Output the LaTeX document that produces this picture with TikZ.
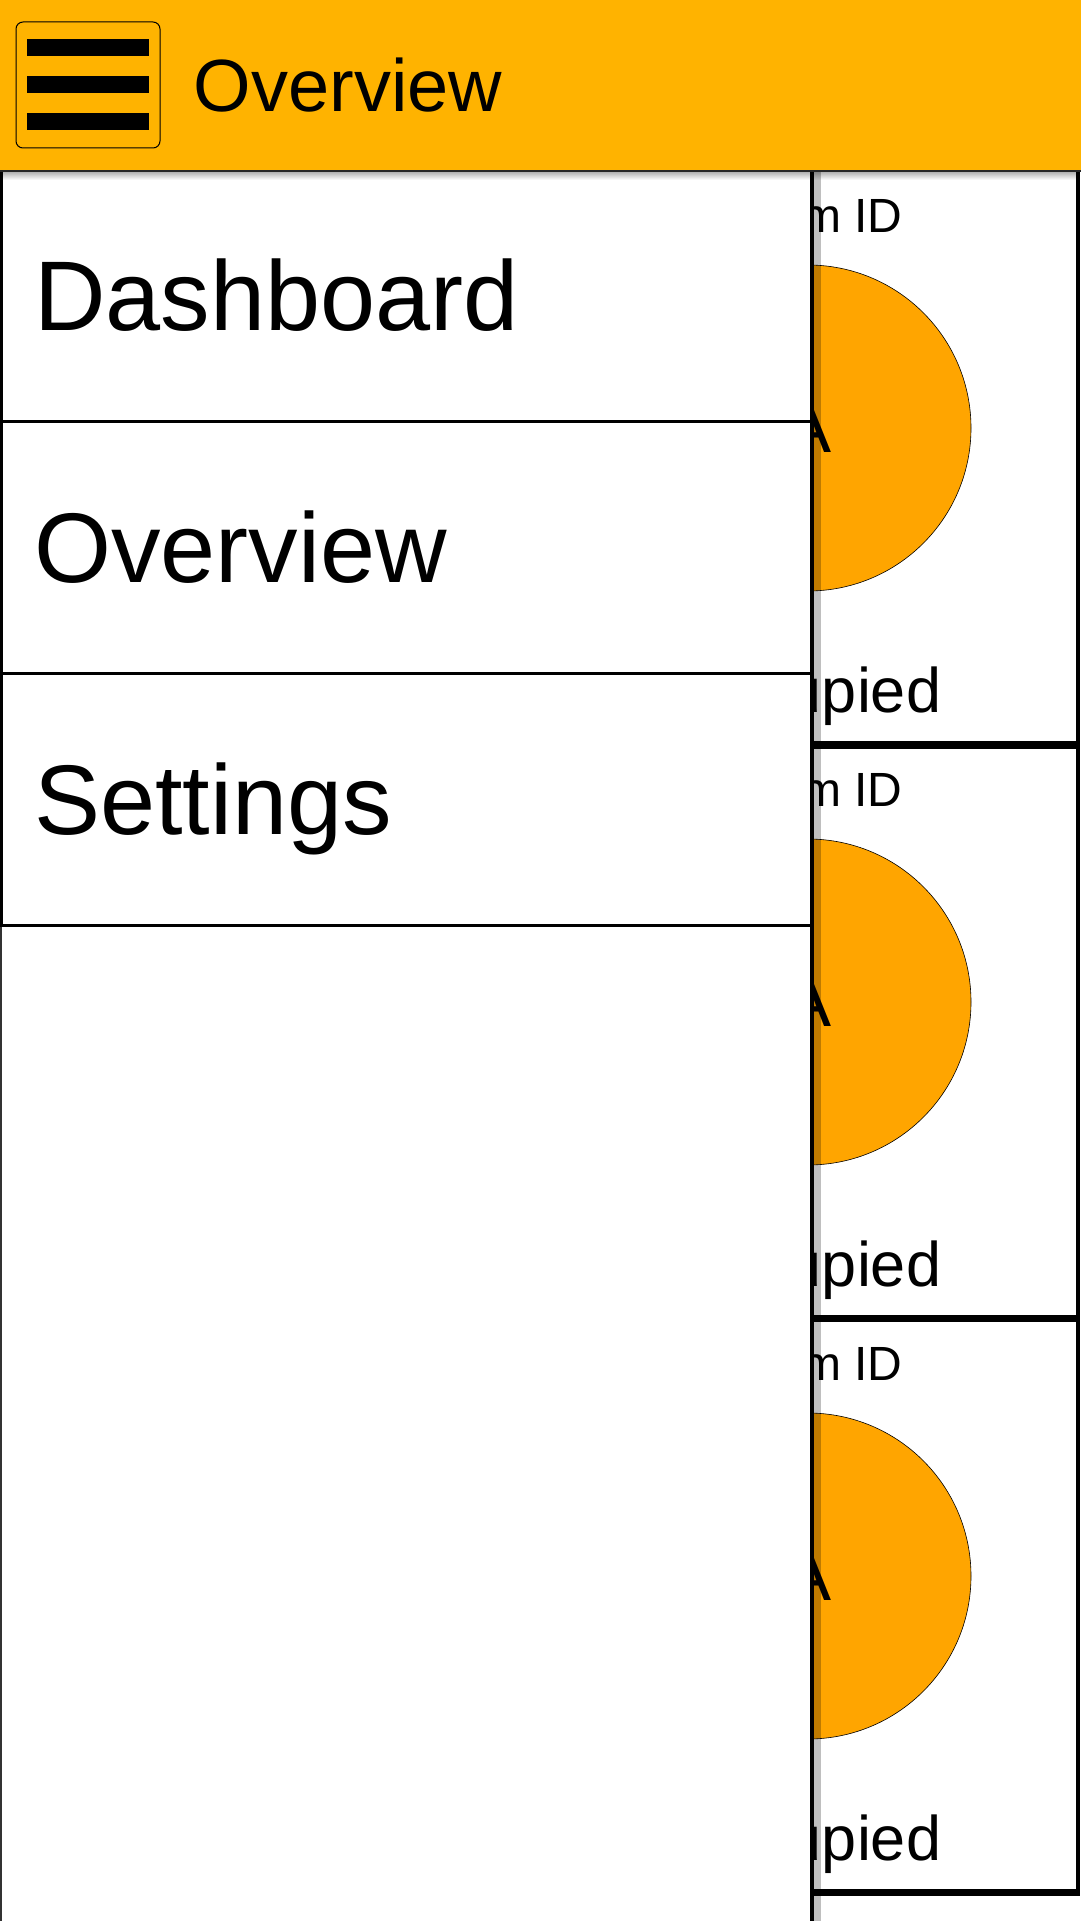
\documentclass[tikz,border=0pt]{standalone}
\usepackage{fontspec}
\setmainfont{Liberation Sans}
\usetikzlibrary{positioning,fadings}
\definecolor{amber}{HTML}{FFB300}
\definecolor{tileorange}{HTML}{FFA500}

\begin{document}
\begin{tikzpicture}[x=1pt,y=-1pt,
    menuitem/.style={draw,line width=2.5pt,fill=white,anchor=north west,inner ysep=0pt,inner xsep=33pt,
      text width=744pt,minimum height=252pt,align=left,text height=71pt,text depth=0pt,
      font=\fontsize{99}{99}\selectfont},
    card/.style={draw,line width=3.5pt,fill=white,minimum width=538pt,minimum height=574pt,inner sep=0pt},
    dot/.style={circle,draw,line width=.6pt,fill=tileorange,minimum size=326pt,inner sep=0pt},
    bar/.style={fill=black,minimum width=122pt,minimum height=17pt,inner sep=0pt}]

\useasboundingbox[fill=white] (0,0) rectangle (1081,1921);

% room cards behind the drawer
\foreach \k in {0,1,2} {
  \node[card] (card\k) at (809,{456.5+573.5*\k}) {};
  \node[dot] (dot\k) at (808,{428+574*\k}) {};
  \node[font=\fontsize{72}{72}\selectfont,inner sep=0pt] (lbl\k) at (dot\k) {A};
  \node[above=32pt of dot\k,inner sep=0pt,font=\fontsize{48}{48}\selectfont] (room\k) {Room ID};
  \node[below=75pt of dot\k,inner sep=0pt,font=\fontsize{63}{63}\selectfont] (state\k) {Occupied};
}
\foreach \k in {0,1,2}
  \draw[line width=7pt] (card\k.south west) -- (card\k.south east);

% drawer
\fill[black,opacity=.25] (812,168) rectangle (821,1921);
\node[draw=black!80,line width=1.5pt,fill=white,anchor=north west,minimum width=810pt,minimum height=1753pt,inner sep=0pt]
  (drawer) at (0,168) {};
\draw[line width=4pt] (drawer.north east) -- (drawer.south east);
\foreach \name/\txt [count=\i from 0] in {dash/Dashboard,over/Overview,sett/Settings}
  \node[menuitem] (\name) at (0,{168+252*\i}) {\txt};

% app bar
\node[fill=amber,anchor=north west,minimum width=1081pt,minimum height=171pt,inner sep=0pt] (header) at (0,0) {};
\draw[line width=2pt,black!85] (header.south west) -- (header.south east);
\fill[black,opacity=.3,path fading=south] (0,172) rectangle (1081,180);
\node[draw,line width=1pt,rounded corners=7pt,minimum width=144pt,minimum height=126pt,inner sep=0pt] (menu) at (88,85) {};
\foreach \y/\n in {47.5/top,84.5/mid,121.5/bot}
  \node[bar] (bar\n) at (88,\y) {};
\node[right=33pt of menu,inner sep=0pt,font=\fontsize{74}{74}\selectfont] (title) {Overview};
\end{tikzpicture}
\end{document}
